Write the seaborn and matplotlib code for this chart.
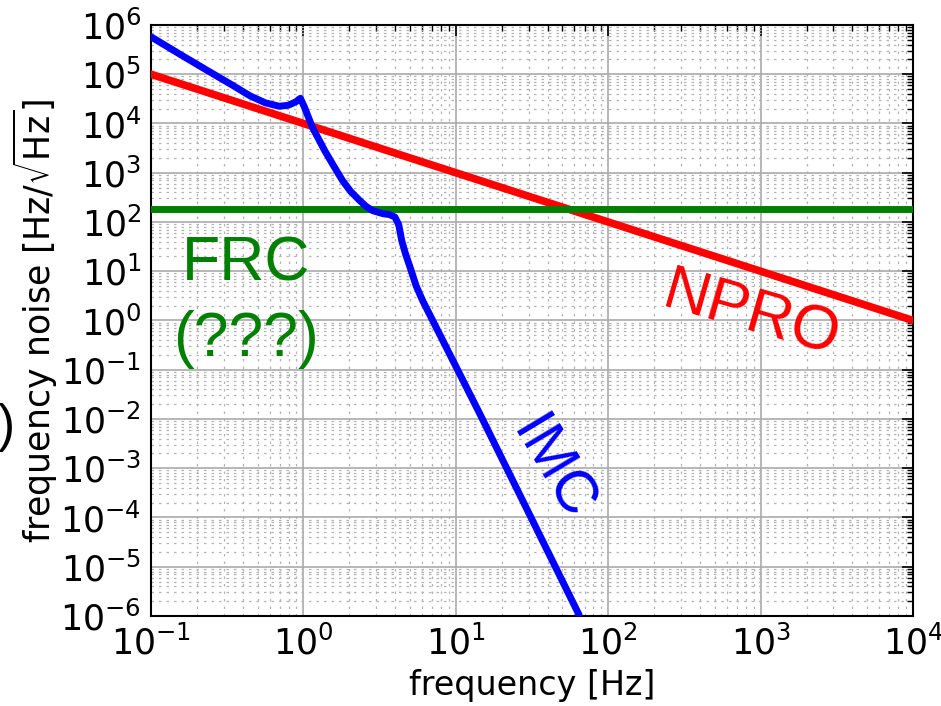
import numpy as np
import pandas as pd
import seaborn as sns
import matplotlib.pyplot as plt
from matplotlib.ticker import LogLocator

# IMC frequency noise
imc_freq = [0.1, 0.158, 0.251, 0.341, 0.447, 0.562, 0.692, 0.794, 0.891, 0.955,
            1.016, 1.146, 1.259, 1.38, 1.585, 1.807, 2.042, 2.333, 2.57, 2.844,
            3.311, 3.681, 3.98, 4.217, 4.416, 4.677, 5.01, 5.495, 6.067, 14.39, 64.4]
imc_noise = [5.75e5, 2.45e5, 1.05e5, 6.03e4, 3.63e4, 2.63e4, 2.24e4, 2.34e4, 2.75e4, 3.24e4,
             2.14e4, 8.3e3, 4.8e3, 2.8e3, 1.35e3, 690, 417, 275, 209, 170,
             148, 141, 126, 89, 41.7, 22.4, 12.0, 5.0, 2.5, 1.26e-2, 1.05e-6]

# NPRO free-running noise (1/f)
npro_freq = [0.1, 1e4]
npro_noise = [1e5, 1.0]

# FRC level
frc_freq = [0.1, 1e4]
frc_noise = [180, 180]

sns.set_theme(style="whitegrid", rc={
    "axes.edgecolor": "black",
    "axes.linewidth": 1.5,
    "xtick.direction": "in",
    "ytick.direction": "in",
    "xtick.top": True,
    "ytick.right": True,
    "xtick.color": "black",
    "ytick.color": "black",
    "axes.labelcolor": "black",
    "text.color": "black",
    "axes.unicode_minus": False,
})
plt.rcParams['font.family'] = ['DejaVu Sans']

fig = plt.figure(figsize=(9.41, 7.06), dpi=100)
ax = fig.add_axes([0.1605, 0.1275, 0.8098, 0.8371])

sns.lineplot(x=npro_freq, y=npro_noise, color="#ff0000", lw=5.5, ax=ax, zorder=3)
sns.lineplot(x=frc_freq, y=frc_noise, color="green", lw=5, ax=ax, zorder=3)
sns.lineplot(x=imc_freq, y=imc_noise, color="#0000ff", lw=5, ax=ax, sort=False, zorder=4)

ax.set_xscale("log")
ax.set_yscale("log")
ax.set_xlim(0.1, 1e4)
ax.set_ylim(1e-6, 1e6)
ax.set_yticks([10.0 ** k for k in range(-6, 7)])
ax.set_xticks([10.0 ** k for k in range(-1, 5)])
ax.xaxis.set_minor_locator(LogLocator(base=10, subs=np.arange(2, 10), numticks=20))
ax.yaxis.set_minor_locator(LogLocator(base=10, subs=np.arange(2, 10), numticks=30))

ax.grid(True, which="major", color="#aaaaaa", lw=1.2, ls="-")
ax.grid(True, which="minor", color="#b3b3b3", lw=0.9, ls=(0, (2, 4)))
ax.tick_params(which="major", length=8, width=1.2, labelsize=25, pad=7, color="black")
ax.tick_params(which="minor", length=4, width=1, color="black")

ax.set_xlabel("frequency [Hz]", fontsize=24)
ax.set_ylabel(r"frequency noise [Hz/$\sqrt{\rm Hz}$]", fontsize=25)
ax.xaxis.set_label_coords(0.5, -0.09)
ax.yaxis.set_label_coords(-0.12, 0.5)

txt_font = ["Liberation Sans", "DejaVu Sans"]
ax.text(0.42, 6.4, "FRC", color="green", fontsize=45, family=txt_font, ha="center", va="baseline")
ax.text(0.42, 0.19, "(???)", color="green", fontsize=45, family=txt_font, ha="center", va="baseline")
ax.text(871, 1.24, "NPRO", color="#ff0000", fontsize=45, family=txt_font, rotation=-16,
        rotation_mode="anchor", ha="center", va="center")
ax.text(42.2, 9.5e-4, "IMC", color="#0000ff", fontsize=43, family=txt_font, rotation=-59,
        rotation_mode="anchor", ha="center", va="center")

fig.text(0.016, 0.394, ")", fontsize=37, family=txt_font, ha="right", va="center")

fig.savefig("out.png", dpi=100)
